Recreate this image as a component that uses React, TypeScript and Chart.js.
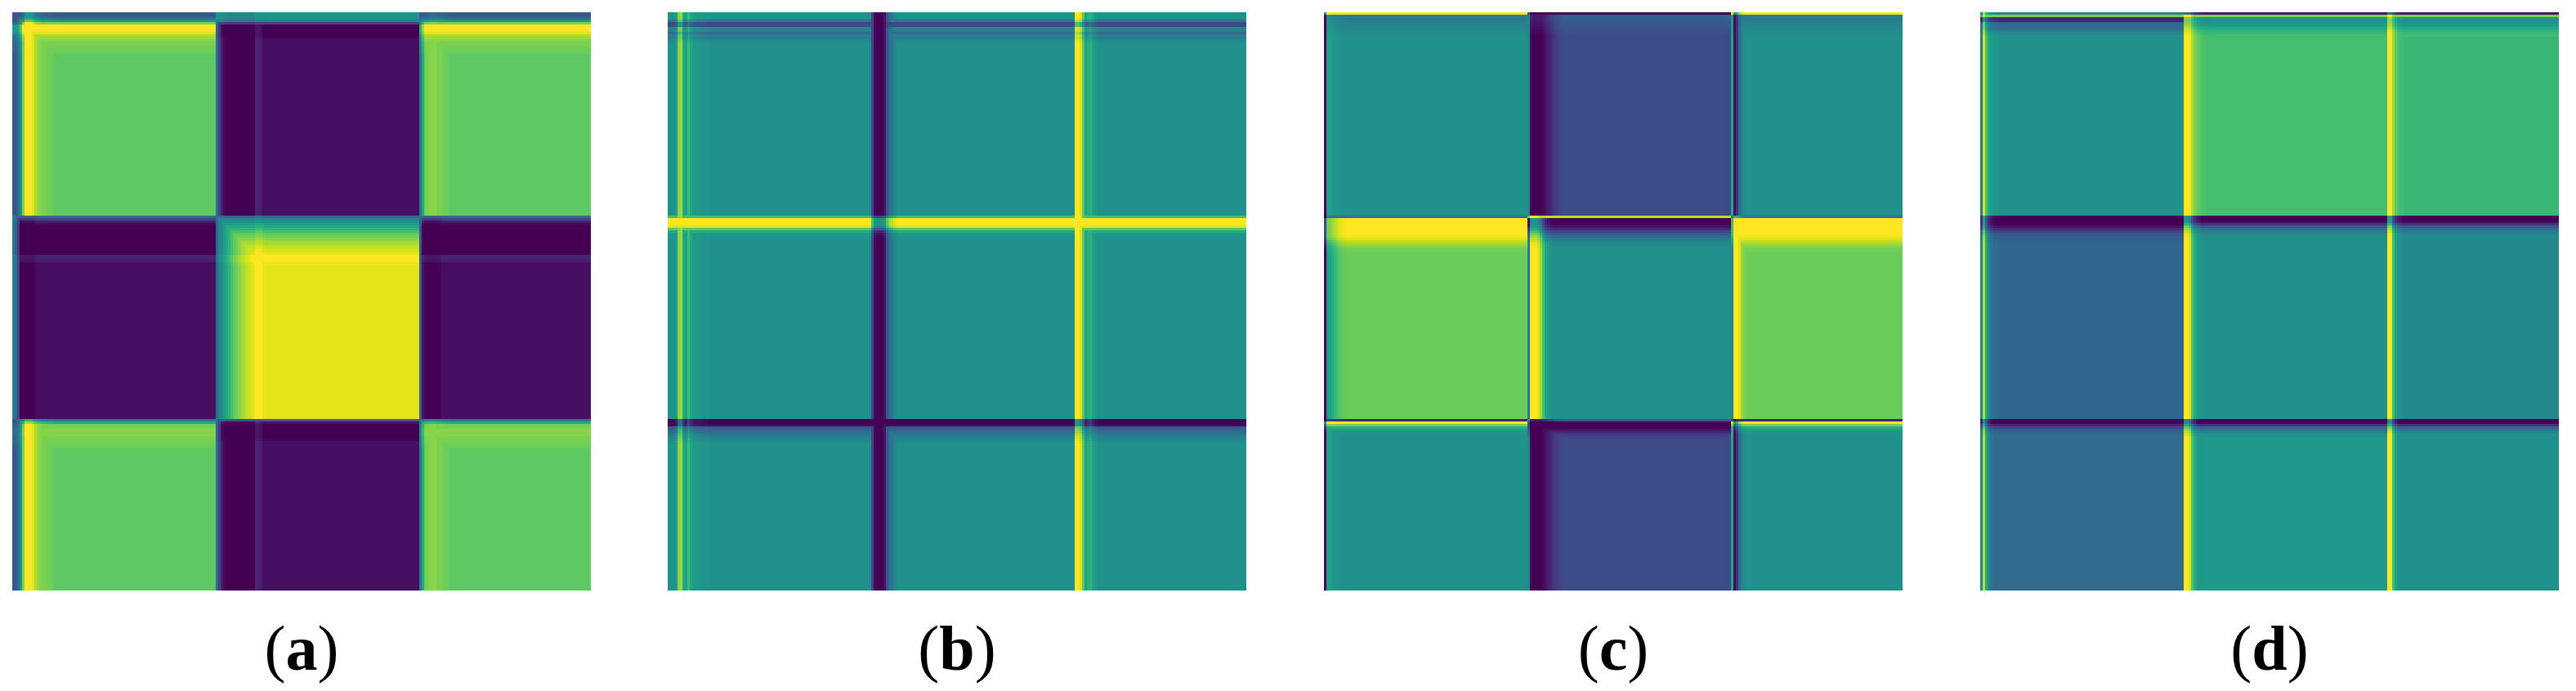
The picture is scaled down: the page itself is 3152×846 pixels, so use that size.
import React, { useEffect, useRef } from "react";
import { Chart, registerables } from "chart.js";

Chart.register(...registerables);

// ---------- grid & layout data ----------
const GRID = 236; // cells per side of every matrix
const BLOCK_STARTS = [0, 83, 166]; // first cell of each block row / column
const PANEL_LABELS = ["a", "b", "c", "d"];
const PANEL_LEFT = [15, 817, 1620, 2423];
const PANEL_TOP = 15;
const PANEL_SIZE = 708;
const ROW_LABELS = Array.from({ length: GRID }, (_, i) => String(i));

// viridis colour map stops (0, 0.05, ..., 1)
const VIRIDIS = [
  "#440154", "#471365", "#482475", "#463480", "#414487", "#3b528b", "#355f8d",
  "#2f6c8e", "#2a788e", "#25848e", "#21918c", "#1e9c89", "#22a884", "#2fb47c",
  "#44bf70", "#5ec962", "#7ad151", "#9bd93c", "#bddf26", "#dfe318", "#fde725",
];

// ---------- panel (a) ----------
const A_BLOCKS = [
  [0.75, 0.04, 0.75],
  [0.04, 0.96, 0.04],
  [0.75, 0.04, 0.75],
];
const A_GREEN_OUTER = [0.28, 0.28, 0.35, 0.5, 0.8, 1, 1, 1, 0.95, 0.88, 0.84, 0.82, 0.8, 0.8, 0.78, 0.78, 0.77];
const A_GREEN_INNER = [0.4, 0.6, 0.78, 0.8, 0.82, 0.82, 0.82, 0.8, 0.8, 0.79, 0.78, 0.77];
const A_PURPLE_LEFT_EDGE = [0.42, 0.35, 0.2, 0, 0, 0, 0, 0, 0, 0.02];
const A_PURPLE_TOP_EDGE = [0.5, 0.5, 0.5, 0.45, 0.2, 0, 0, 0, 0, 0, 0.02];
const A_PURPLE_MID = [0.35, 0.2, 0.08, 0.02, 0, 0, 0, 0, 0, 0, 0, 0, 0, 0, 0, 0, 0.1, 0.1, 0.08];
const A_PURPLE_INNER = [0.3, 0.05, 0, 0, 0, 0, 0, 0, 0.01];
const A_YELLOW_MID = [0.35, 0.45, 0.5, 0.55, 0.6, 0.65, 0.7, 0.75, 0.78, 0.82, 0.85, 0.87, 0.9, 0.92, 0.94, 0.96, 1, 1, 1, 0.97];
const A_LEFT = [
  [A_GREEN_OUTER, A_PURPLE_MID, A_GREEN_INNER],
  [A_PURPLE_LEFT_EDGE, A_YELLOW_MID, A_PURPLE_INNER],
  [A_GREEN_OUTER, A_PURPLE_MID, A_GREEN_INNER],
];
const A_TOP = [
  [A_GREEN_OUTER, A_PURPLE_TOP_EDGE, A_GREEN_OUTER],
  [A_PURPLE_MID, A_YELLOW_MID, A_PURPLE_MID],
  [A_GREEN_INNER, A_PURPLE_INNER, A_GREEN_INNER],
];

// ---------- panel (b) ----------
const B_BLOCKS = [
  [0.5, 0.5, 0.5],
  [0.5, 0.5, 0.5],
  [0.5, 0.5, 0.5],
];
const B_LEFT0 = [0.5, 0.5, 0.5, 0.55, 0.82, 0.85, 0.6, 0.56, 0.68, 0.6, 0.55, 0.54, 0.53, 0.53, 0.52, 0.52, 0.51];
const B_LEFT1 = [0.2, 0.02, 0, 0, 0, 0.05, 0.25, 0.35, 0.4, 0.45, 0.48];
const B_LEFT2 = [1, 1, 0.95, 0.75, 0.58, 0.62, 0.64, 0.58, 0.53, 0.51];
const B_TOP0 = [0.5, 0.5, 0.5, 0.4, 0.2, 0.22, 0.45, 0.45, 0.35, 0.42, 0.42, 0.47, 0.49];
const B_TOP1 = [0.7, 1, 1, 1, 0.95, 0.75, 0.6, 0.55, 0.52];
const B_TOP2 = [0, 0, 0.02, 0.28, 0.33, 0.36, 0.4, 0.44, 0.47, 0.49];
const B_LEFT = [
  [B_LEFT0, B_LEFT1, B_LEFT2],
  [B_LEFT0, B_LEFT1, B_LEFT2],
  [B_LEFT0, B_LEFT1, B_LEFT2],
];
const B_TOP = [
  [B_TOP0, B_TOP0, B_TOP0],
  [B_TOP1, B_TOP1, B_TOP1],
  [B_TOP2, B_TOP2, B_TOP2],
];

// ---------- panel (c) ----------
const C_BLOCKS = [
  [0.5, 0.23, 0.5],
  [0.77, 0.5, 0.77],
  [0.5, 0.23, 0.5],
];
const C_TEAL_L0 = [0, 0.56, 0.56, 0.54, 0.53, 0.52, 0.51];
const C_GREEN_L0 = [0, 0.55, 0.58, 0.62, 0.66, 0.7, 0.73, 0.75, 0.76];
const C_BLUE_L1 = [0.45, 0.02, 0, 0, 0, 0, 0.02, 0.05, 0.08, 0.11, 0.14, 0.17, 0.19, 0.21, 0.22];
const C_TEAL_L1 = [0.4, 1, 1, 1, 0.95, 0.85, 0.7, 0.6, 0.55, 0.52];
const C_TEAL_L2 = [0.6, 0.02, 0.15, 0.35, 0.45, 0.49];
const C_GREEN_L2 = [0.45, 1, 1, 0.95, 0.85, 0.8, 0.78];
const C_TEAL_T0 = [1, 0.42, 0.42, 0.43, 0.44, 0.45, 0.46, 0.47, 0.48, 0.49];
const C_BLUE_T0 = [0, 0.3, 0.3, 0.29, 0.28, 0.27, 0.26, 0.25, 0.24];
const C_GREEN_T1 = [0.4, 1, 1, 1, 1, 1, 1, 1, 0.98, 0.95, 0.9, 0.86, 0.82, 0.79, 0.78];
const C_TEAL_T1 = [0.9, 0, 0, 0.02, 0.05, 0.12, 0.2, 0.28, 0.34, 0.4, 0.44, 0.47, 0.49];
const C_TEAL_T2 = [0.1, 1, 0.8, 0.62, 0.55, 0.52];
const C_BLUE_T2 = [0.3, 0, 0, 0, 0.05, 0.12, 0.18, 0.21];
const C_LEFT = [
  [C_TEAL_L0, C_BLUE_L1, C_TEAL_L2],
  [C_GREEN_L0, C_TEAL_L1, C_GREEN_L2],
  [C_TEAL_L0, C_BLUE_L1, C_TEAL_L2],
];
const C_TOP = [
  [C_TEAL_T0, C_BLUE_T0, C_TEAL_T0],
  [C_GREEN_T1, C_TEAL_T1, C_GREEN_T1],
  [C_TEAL_T2, C_BLUE_T2, C_TEAL_T2],
];

// ---------- panel (d) ----------
const D_BLOCKS = [
  [0.5, 0.7, 0.67],
  [0.33, 0.5, 0.47],
  [0.35, 0.54, 0.5],
];
const D_TEAL_L0 = [0.4, 0.95, 0.7, 0.6, 0.55, 0.53, 0.52, 0.51];
const D_BLUE_L0 = [0.45, 0.9, 0.6, 0.45, 0.38, 0.35, 0.34];
const D_GREEN_L1 = [1, 1, 1, 0.88, 0.8, 0.77, 0.74, 0.72, 0.71];
const D_TEAL_L1 = [1, 1, 0.95, 0.72, 0.62, 0.56, 0.53];
const D_GREEN_L2 = [1, 1, 0.85, 0.76, 0.71, 0.69, 0.68];
const D_TEAL_L2 = [1, 1, 0.7, 0.58, 0.52, 0.5];
const D_TEAL_T0 = [0.45, 0.8, 0.1, 0.1, 0.33, 0.34, 0.36, 0.4, 0.45, 0.48];
const D_GREEN_T0 = [0.05, 0.8, 0.5, 0.5, 0.52, 0.55, 0.6, 0.64, 0.67, 0.69];
const D_BLUE_T1 = [0.02, 0, 0, 0, 0.05, 0.12, 0.2, 0.25, 0.29, 0.31, 0.32];
const D_TEAL_T1 = [0.02, 0, 0.02, 0.15, 0.28, 0.36, 0.42, 0.46, 0.48];
const D_BLUE_T2 = [0, 0, 0.1, 0.2, 0.28, 0.32, 0.34];
const D_TEAL_T2 = [0, 0, 0.15, 0.3, 0.4, 0.46, 0.5];
const D_LEFT = [
  [D_TEAL_L0, D_GREEN_L1, D_GREEN_L2],
  [D_BLUE_L0, D_TEAL_L1, D_TEAL_L2],
  [D_BLUE_L0, D_TEAL_L1, D_TEAL_L2],
];
const D_TOP = [
  [D_TEAL_T0, D_GREEN_T0, D_GREEN_T0],
  [D_BLUE_T1, D_TEAL_T1, D_TEAL_T1],
  [D_BLUE_T2, D_TEAL_T2, D_TEAL_T2],
];

const PANELS = [
  { blocks: A_BLOCKS, left: A_LEFT, top: A_TOP },
  { blocks: B_BLOCKS, left: B_LEFT, top: B_TOP },
  { blocks: C_BLOCKS, left: C_LEFT, top: C_TOP },
  { blocks: D_BLOCKS, left: D_LEFT, top: D_TOP },
];

// ---------- helpers ----------
function hexToRgb(h: string) {
  return [parseInt(h.slice(1, 3), 16), parseInt(h.slice(3, 5), 16), parseInt(h.slice(5, 7), 16)];
}
const VIRIDIS_RGB = VIRIDIS.map(hexToRgb);
function viridis(v: number) {
  const t = Math.min(1, Math.max(0, v)) * (VIRIDIS_RGB.length - 1);
  const i = Math.min(VIRIDIS_RGB.length - 2, Math.floor(t));
  const f = t - i;
  const a = VIRIDIS_RGB[i];
  const b = VIRIDIS_RGB[i + 1];
  const c = a.map((x, k) => Math.round(x + (b[k] - x) * f));
  return `rgb(${c[0]},${c[1]},${c[2]})`;
}
function blockOf(i: number) {
  return i >= BLOCK_STARTS[2] ? 2 : i >= BLOCK_STARTS[1] ? 1 : 0;
}
function cellValue(p: any, i: number, j: number) {
  const r = blockOf(i);
  const c = blockOf(j);
  const base = p.blocks[r][c];
  const lp: number[] = p.left[r][c];
  const tp: number[] = p.top[r][c];
  const xo = j - BLOCK_STARTS[c];
  const yo = i - BLOCK_STARTS[r];
  const dx = xo < lp.length ? lp[xo] - base : 0;
  const dy = yo < tp.length ? tp[yo] - base : 0;
  let d: number;
  if (dx * dy > 0) d = Math.abs(dx) > Math.abs(dy) ? dx : dy;
  else d = dx + dy;
  return Math.min(1, Math.max(0, base + d));
}
// run-length segments of each matrix row -> floating horizontal bars
function buildBars(p: any) {
  const data: { x: [number, number]; y: string }[] = [];
  const colors: string[] = [];
  for (let i = 0; i < GRID; i++) {
    let start = 0;
    let q = -1;
    for (let j = 0; j <= GRID; j++) {
      const nq = j < GRID ? Math.round(cellValue(p, i, j) * 200) : -2;
      if (nq !== q) {
        if (q >= 0) {
          data.push({ x: [start, j], y: ROW_LABELS[i] });
          colors.push(viridis(q / 200));
        }
        start = j;
        q = nq;
      }
    }
  }
  return { data, colors };
}

function HeatPanel({ index }: { index: number }) {
  const ref = useRef<HTMLCanvasElement | null>(null);
  useEffect(() => {
    if (!ref.current) return;
    const { data, colors } = buildBars(PANELS[index]);
    const chart = new Chart(ref.current, {
      type: "bar",
      data: {
        labels: ROW_LABELS,
        datasets: [
          {
            data: data as any,
            backgroundColor: colors,
            borderWidth: 0,
            barPercentage: 1,
            categoryPercentage: 1,
            inflateAmount: 0,
          } as any,
        ],
      },
      options: {
        indexAxis: "y",
        animation: false,
        responsive: false,
        maintainAspectRatio: false,
        events: [],
        layout: { padding: 0 },
        plugins: {
          legend: { display: false },
          tooltip: { enabled: false },
          title: { display: false },
        },
        scales: {
          x: { type: "linear", min: 0, max: GRID, display: false },
          y: { type: "category", display: false },
        },
      },
    });
    return () => chart.destroy();
  }, [index]);
  return (
    <canvas
      ref={ref}
      width={PANEL_SIZE}
      height={PANEL_SIZE}
      style={{
        position: "absolute",
        left: PANEL_LEFT[index],
        top: PANEL_TOP,
        width: PANEL_SIZE,
        height: PANEL_SIZE,
      }}
    />
  );
}

export default function App() {
  return (
    <div
      style={{
        position: "absolute",
        left: 0,
        top: 0,
        width: 3152,
        height: 846,
        background: "#ffffff",
        overflow: "hidden",
      }}
    >
      {PANEL_LABELS.map((lab, i) => (
        <React.Fragment key={lab}>
          <HeatPanel index={i} />
          <div
            style={{
              position: "absolute",
              left: PANEL_LEFT[i],
              top: 749,
              width: PANEL_SIZE,
              textAlign: "center",
              fontFamily: '"Liberation Serif", "DejaVu Serif", serif',
              fontSize: 78,
              lineHeight: "90px",
              color: "#000",
            }}
          >
            (<b>{lab}</b>)
          </div>
        </React.Fragment>
      ))}
    </div>
  );
}
